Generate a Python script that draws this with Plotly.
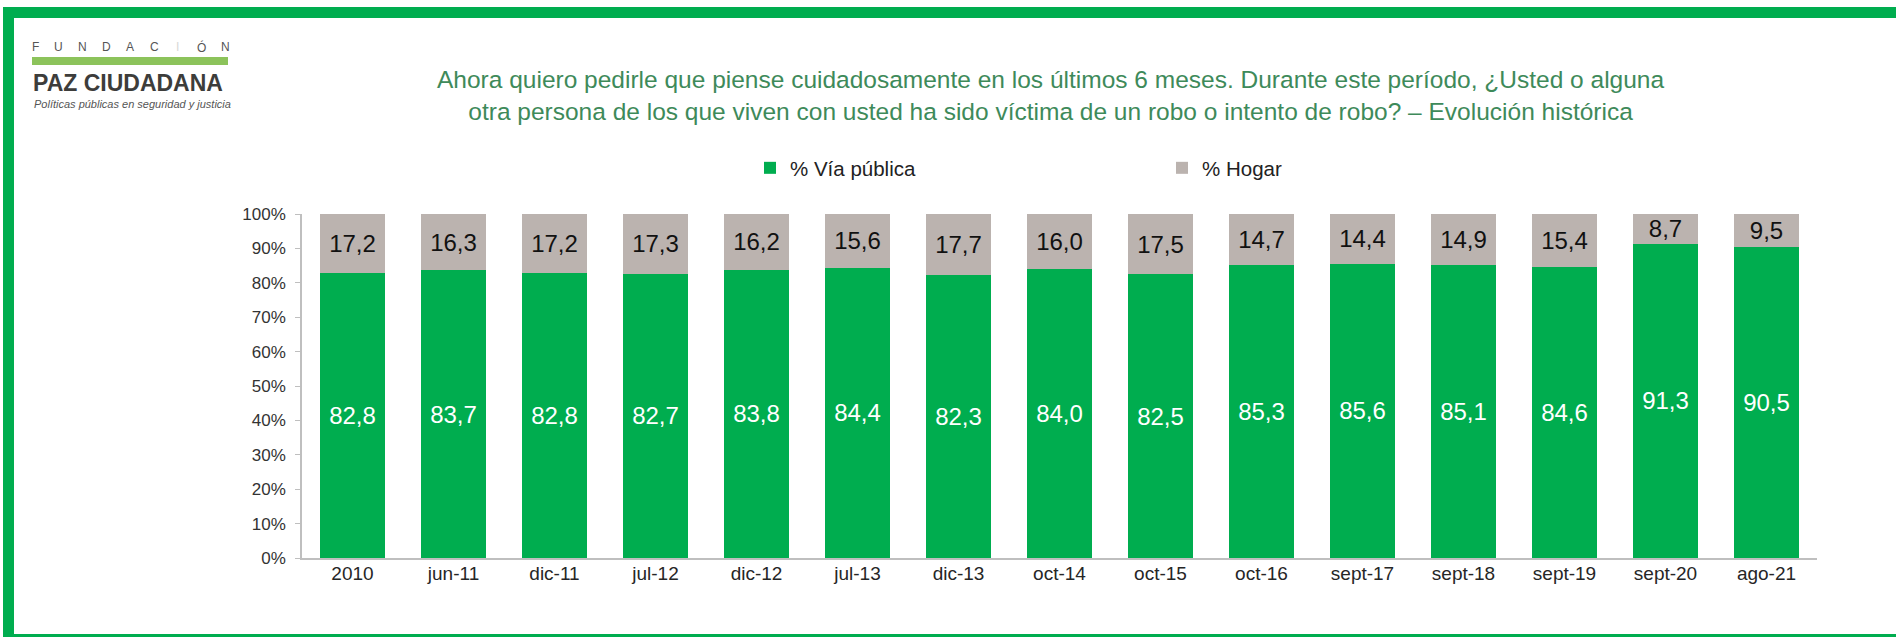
import plotly.graph_objects as go

categories = ["2010", "jun-11", "dic-11", "jul-12", "dic-12", "jul-13", "dic-13", "oct-14",
              "oct-15", "oct-16", "sept-17", "sept-18", "sept-19", "sept-20", "ago-21"]
via_publica = [82.8, 83.7, 82.8, 82.7, 83.8, 84.4, 82.3, 84.0, 82.5, 85.3, 85.6, 85.1, 84.6, 91.3, 90.5]
hogar = [17.2, 16.3, 17.2, 17.3, 16.2, 15.6, 17.7, 16.0, 17.5, 14.7, 14.4, 14.9, 15.4, 8.7, 9.5]
series_names = ["% Vía pública", "% Hogar"]
title_lines = ["Ahora quiero pedirle que piense cuidadosamente en los últimos 6 meses. Durante este período, ¿Usted o alguna",
               "otra persona de los que viven con usted ha sido víctima de un robo o intento de robo? – Evolución histórica"]

W, H = 1896, 637
L, R, T, B = 302, 79, 214, 79
PW, PH = W - L - R, H - T - B

def px(x):
    return (x - L) / PW

def py(y):
    return (H - B - y) / PH

GREEN = "#00AD4F"
GRAY = "#BBB3AF"
FONT = "Liberation Sans, Arial, sans-serif"

fig = go.Figure()
fig.add_trace(go.Bar(
    x=categories, y=[v / 100 for v in via_publica], name=series_names[0],
    marker=dict(color=GREEN, line=dict(width=0)),
    text=[f"{v:.1f}".replace(".", ",") for v in via_publica],
    textposition="inside", insidetextanchor="middle", constraintext="none",
    textfont=dict(family=FONT, size=24, color="white"), hoverinfo="skip",
))
fig.add_trace(go.Bar(
    x=categories, y=[v / 100 for v in hogar], name=series_names[1],
    marker=dict(color=GRAY, line=dict(width=0)),
    text=[f"{v:.1f}".replace(".", ",") for v in hogar],
    textposition="inside", insidetextanchor="middle", constraintext="none",
    textfont=dict(family=FONT, size=24, color="#111111"), hoverinfo="skip",
))

shapes = []
# green frame (top, left, bottom)
for x0, y0, x1, y1 in [(3, 7, 1896, 18), (3, 7, 14, 637), (3, 634, 1896, 640)]:
    shapes.append(dict(type="rect", xref="paper", yref="paper",
                       x0=px(x0), x1=px(x1), y0=py(y1), y1=py(y0),
                       fillcolor=GREEN, line=dict(width=0), layer="above"))
# logo bar
shapes.append(dict(type="rect", xref="paper", yref="paper",
                   x0=px(32), x1=px(228), y0=py(65), y1=py(57),
                   fillcolor="#8CC35B", line=dict(width=0), layer="above"))

annotations = []
letters = list("FUNDACIÓN")
for i, ch in enumerate(letters):
    annotations.append(dict(x=px(35 + i * 23.8), y=py(47), xref="paper", yref="paper",
                            text=ch, showarrow=False, xanchor="center", yanchor="middle",
                            font=dict(family=FONT, size=12, color="#d8d8d8" if ch == "I" else "#555555")))
annotations.append(dict(x=px(31), y=py(83), xref="paper", yref="paper", text="<b>PAZ CIUDADANA</b>",
                        showarrow=False, xanchor="left", yanchor="middle",
                        font=dict(family=FONT, size=23, color="#3d3d3b")))
annotations.append(dict(x=px(32), y=py(104), xref="paper", yref="paper",
                        text="<i>Políticas públicas en seguridad y justicia</i>",
                        showarrow=False, xanchor="left", yanchor="middle",
                        font=dict(family=FONT, size=11, color="#555555")))
annotations.append(dict(x=px(1050), y=py(95), xref="paper", yref="paper",
                        text="<br>".join(title_lines), showarrow=False,
                        xanchor="center", yanchor="middle", align="center",
                        font=dict(family=FONT, size=24.5, color="#3E8A5A")))

fig.update_layout(
    width=W, height=H, autosize=False,
    margin=dict(l=L, r=R, t=T, b=B),
    barmode="stack", bargap=0.35,
    paper_bgcolor="white", plot_bgcolor="white",
    separators=",.",
    font=dict(family=FONT, color="#333333"),
    showlegend=True,
    legend=dict(orientation="h", traceorder="normal", x=px(750), y=py(168),
                xanchor="left", yanchor="middle",
                entrywidth=367, entrywidthmode="pixels",
                font=dict(family=FONT, size=20.5, color="#222222"), bgcolor="rgba(0,0,0,0)"),
    xaxis=dict(showline=True, linecolor="#BFBFBF", linewidth=1.5, ticks="", showgrid=False,
               tickfont=dict(family=FONT, size=19, color="#262626"), ticklabelstandoff=-3),
    yaxis=dict(range=[0, 1], tickformat=".0%", dtick=0.1, showline=True, linecolor="#BFBFBF",
               linewidth=1.5, ticks="outside", ticklen=5, tickcolor="#BFBFBF", showgrid=False,
               zeroline=False, tickfont=dict(family=FONT, size=17, color="#333333"),
               ticklabelstandoff=6),
    shapes=shapes, annotations=annotations,
)

fig.write_html("out.html", config={"displayModeBar": False},
               post_script="document.body.style.margin='0px';")
